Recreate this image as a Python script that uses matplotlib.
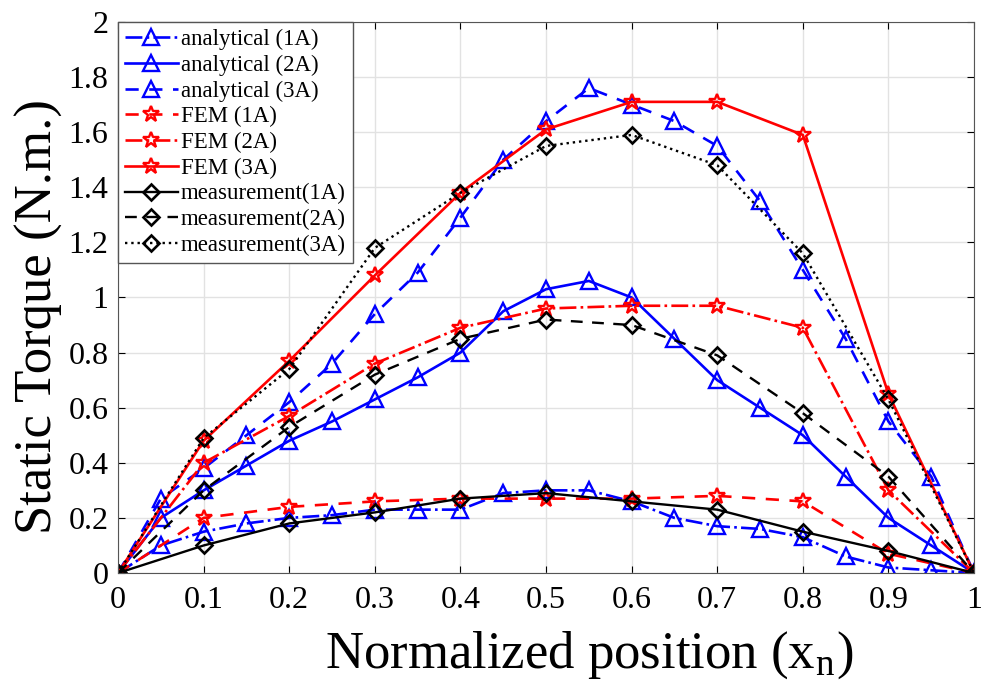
import matplotlib.pyplot as plt
from matplotlib.ticker import FuncFormatter

# analytical curves sampled every 0.05
x_an = [0, 0.05, 0.1, 0.15, 0.2, 0.25, 0.3, 0.35, 0.4, 0.45, 0.5,
        0.55, 0.6, 0.65, 0.7, 0.75, 0.8, 0.85, 0.9, 0.95, 1.0]
an_1A = [0, 0.10, 0.15, 0.18, 0.20, 0.21, 0.23, 0.23, 0.23, 0.29, 0.30,
         0.30, 0.26, 0.20, 0.17, 0.16, 0.13, 0.06, 0.02, 0.01, 0]
an_2A = [0, 0.20, 0.30, 0.39, 0.48, 0.55, 0.63, 0.71, 0.80, 0.95, 1.03,
         1.06, 1.00, 0.85, 0.70, 0.60, 0.50, 0.35, 0.20, 0.10, 0]
an_3A = [0, 0.27, 0.38, 0.50, 0.62, 0.76, 0.94, 1.09, 1.29, 1.50, 1.64,
         1.76, 1.70, 1.64, 1.55, 1.35, 1.10, 0.85, 0.55, 0.35, 0]

# FEM and measurement every 0.1
x_fm = [0, 0.1, 0.2, 0.3, 0.4, 0.5, 0.6, 0.7, 0.8, 0.9, 1.0]
fem_1A = [0, 0.20, 0.24, 0.26, 0.27, 0.27, 0.27, 0.28, 0.26, 0.07, 0]
fem_2A = [0, 0.40, 0.57, 0.76, 0.89, 0.96, 0.97, 0.97, 0.89, 0.30, 0]
fem_3A = [0, 0.48, 0.77, 1.08, 1.38, 1.61, 1.71, 1.71, 1.59, 0.65, 0]
meas_1A = [0, 0.10, 0.18, 0.22, 0.27, 0.29, 0.26, 0.23, 0.15, 0.08, 0]
meas_2A = [0, 0.30, 0.53, 0.72, 0.85, 0.92, 0.90, 0.79, 0.58, 0.35, 0]
meas_3A = [0, 0.49, 0.74, 1.18, 1.38, 1.55, 1.59, 1.48, 1.16, 0.63, 0]

plt.rcParams['font.family'] = ['Liberation Serif', 'DejaVu Serif']
plt.rcParams['mathtext.fontset'] = 'stix'

fig = plt.figure(figsize=(9.82, 6.82), dpi=100)
ax = fig.add_axes([0.1202, 0.1598, 0.8717, 0.808])

tri = dict(marker='^', markersize=11, markerfacecolor='none', markeredgewidth=1.7, color='blue', linewidth=1.9)
star = dict(marker='*', markersize=12, markerfacecolor='none', markeredgewidth=1.7, color='red', linewidth=1.9)
dia = dict(marker='D', markersize=8.5, markerfacecolor='none', markeredgewidth=1.9, color='black', linewidth=1.7)

ax.plot(x_an, an_1A, linestyle='-.', label='analytical (1A)', **tri)
ax.plot(x_an, an_2A, linestyle='-', label='analytical (2A)', **tri)
ax.plot(x_an, an_3A, linestyle=(0, (5, 4)), label='analytical (3A)', **tri)
ax.plot(x_fm, fem_1A, linestyle=(0, (5, 4)), label='FEM (1A)', **star)
ax.plot(x_fm, fem_2A, linestyle='-.', label='FEM (2A)', **star)
ax.plot(x_fm, fem_3A, linestyle='-', label='FEM (3A)', **star)
ax.plot(x_fm, meas_1A, linestyle='-', label='measurement(1A)', **dia)
ax.plot(x_fm, meas_2A, linestyle=(0, (5, 4)), label='measurement(2A)', **dia)
ax.plot(x_fm, meas_3A, linestyle=':', label='measurement(3A)', **dia)

ax.set_xlim(0, 1)
ax.set_ylim(0, 2)
ax.set_xticks([i / 10 for i in range(11)])
ax.set_yticks([i / 5 for i in range(11)])
fmt = FuncFormatter(lambda v, p: ('%g' % round(v, 2)))
ax.xaxis.set_major_formatter(fmt)
ax.yaxis.set_major_formatter(fmt)
ax.tick_params(labelsize=23, direction='in', length=5, top=True, right=True)
ax.tick_params(axis='x', pad=9)
ax.tick_params(axis='y', pad=7)
ax.grid(True, color='#e2e2e2', linewidth=1.0)
ax.set_axisbelow(True)
for s in ax.spines.values():
    s.set_color('#555555')

ax.set_xlabel('Normalized position (x$_\\mathregular{n}$)', fontsize=38, va='baseline')
ax.xaxis.set_label_coords(0.550, -0.1724)
ax.set_ylabel('Static Torque (N.m.)', fontsize=38, va='baseline')
ax.yaxis.set_label_coords(-0.078, 0.465)

leg = ax.legend(loc='upper left', fontsize=16.5, handlelength=2.3, handletextpad=0.15,
                labelspacing=0.2, borderpad=0.3, borderaxespad=0.0, fancybox=False,
                framealpha=1, edgecolor='#555555')

fig.savefig('out.png', dpi=100)
